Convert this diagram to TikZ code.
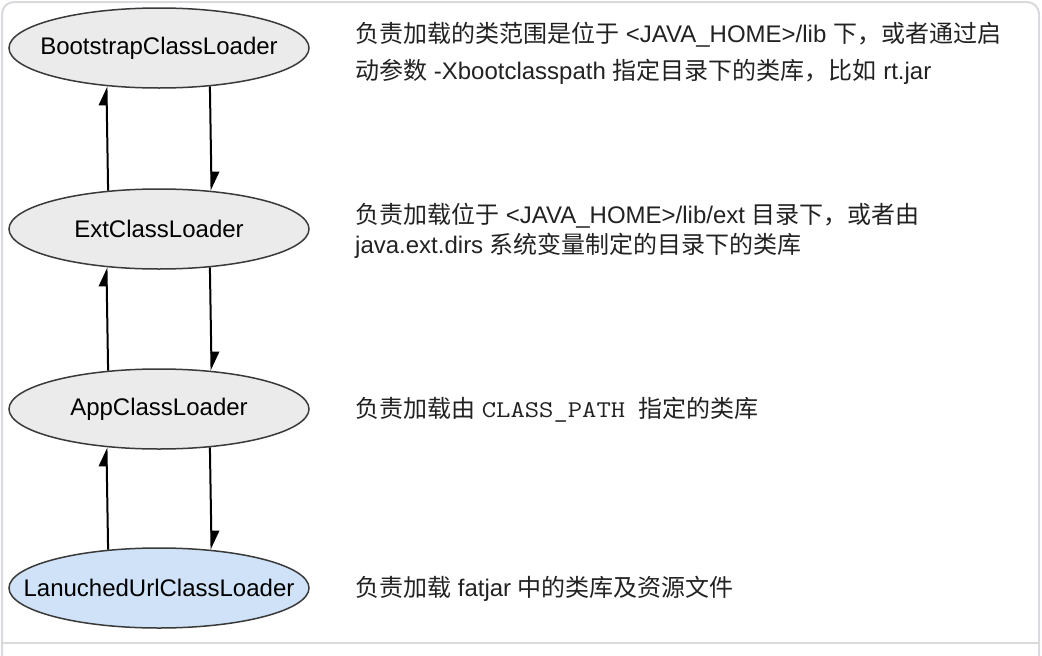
\documentclass[tikz,border=0pt]{standalone}
\usepackage{fontspec}
\setmainfont{Liberation Sans}
\setmonofont[FakeStretch=1.16]{Latin Modern Mono}
\newfontfamily\cjk{Noto Sans CJK SC}
\usetikzlibrary{shapes.geometric,arrows.meta}
\definecolor{framecol}{HTML}{D9D9DE}
\definecolor{grayfill}{HTML}{EBEBEB}
\definecolor{bluefill}{HTML}{CFE2F8}
\definecolor{edgecol}{HTML}{3A3A3A}
\definecolor{txtcol}{HTML}{222222}
\newcommand{\zw}[1]{\makebox[0pt][c]{#1}}
\tikzset{
  loader/.style={ellipse, draw=edgecol, line width=1.5pt, fill=grayfill,
    minimum width=300pt, minimum height=80pt, inner sep=0pt,
    font=\fontsize{24}{28}\selectfont, text=black},
  desc/.style={anchor=base west, inner sep=0pt, text=txtcol,
    font=\fontsize{24}{28}\selectfont},
  arr/.style={line width=2pt, -{Triangle[harpoon, length=17pt, width=16pt]}}
}
\begin{document}
\begin{tikzpicture}[x=1pt, y=-1pt]
\useasboundingbox (0,0) rectangle (1042,656);
\fill[white] (0,0) rectangle (1042,656);
\draw[framecol, line width=2pt, rounded corners=12pt] (2,680) -- (2,2) -- (1039,2) -- (1039,680);
\draw[framecol, line width=2pt] (2,643) -- (1039,643);

\node[loader] (boot) at (159,48) {\zw{BootstrapClassLoader}};
\node[loader] (ext) at (159,229) {\zw{ExtClassLoader}};
\node[loader] (app) at (159,409) {\zw{AppClassLoader}};
\node[loader, fill=bluefill] (lan) at (159,588) {\zw{LanuchedUrlClassLoader}};

\draw[arr] (ext.143.6) -- (boot.216.4);
\draw[arr] (boot.323.6) -- (ext.36.4);
\draw[arr] (app.143.6) -- (ext.216.4);
\draw[arr] (ext.323.6) -- (app.36.4);
\draw[arr] (lan.143.6) -- (app.216.4);
\draw[arr] (app.323.6) -- (lan.36.4);

\node[desc] (d1a) at (355,42) {{\cjk 负责加载的类范围是位于} <JAVA\_HOME>/lib {\cjk 下，或者通过启}};
\node[desc] (d1b) at (355,79) {{\cjk 动参数} -Xbootclasspath {\cjk 指定目录下的类库，比如} rt.jar};
\node[desc] (d2a) at (355,223) {{\cjk 负责加载位于} <JAVA\_HOME>/lib/ext {\cjk 目录下，或者由}};
\node[desc] (d2b) at (355,253) {java.ext.dirs {\cjk 系统变量制定的目录下的类库}};
\node[desc] (d3) at (355,417) {{\cjk 负责加载由} \texttt{CLASS\_PATH}\ \ {\cjk 指定的类库}};
\node[desc] (d4) at (355,596) {{\cjk 负责加载} fatjar {\cjk 中的类库及资源文件}};
\end{tikzpicture}
\end{document}
